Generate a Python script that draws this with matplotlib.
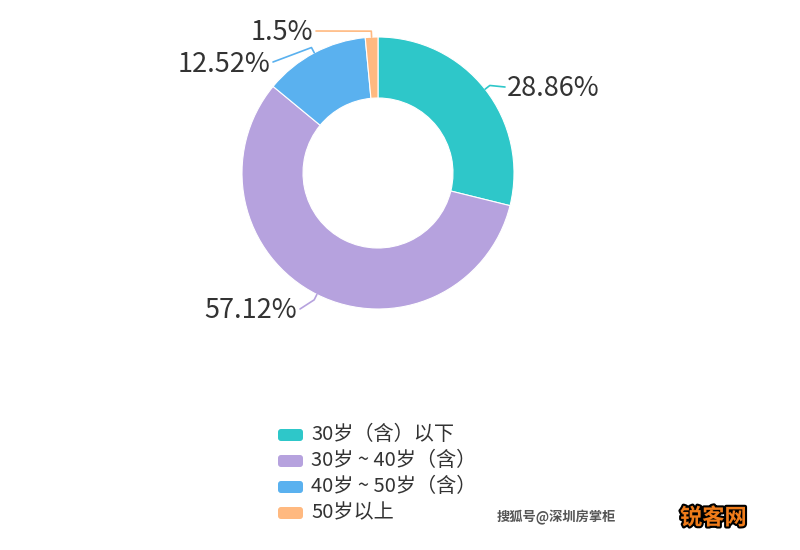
import numpy as np
import matplotlib

matplotlib.use("Agg")
import matplotlib.pyplot as plt
from matplotlib.patches import FancyBboxPatch
import matplotlib.patheffects as pe

plt.rcParams["font.family"] = ["Noto Sans CJK SC", "DejaVu Sans"]

# ------------------------------------------------------------------ data
categories = ["30岁（含）以下", "30岁 ~ 40岁（含）", "40岁 ~ 50岁（含）", "50岁以上"]
shares = [28.86, 57.12, 12.52, 1.5]
value_labels = ["28.86%", "57.12%", "12.52%", "1.5%"]
colors = ["#2ec7c9", "#b6a2de", "#5ab1ef", "#ffb980"]

# ------------------------------------------------------------------ layout (pixel coords, y down)
W, H = 800, 550
CX, CY = 378, 173
R_OUT = 136
R_IN = 75
INK = "#333333"

fig = plt.figure(figsize=(8, 5.5), dpi=100)
ax = fig.add_axes([0, 0, 1, 1])

def Y(y):
    return H - y

wedges, _ = ax.pie(shares, colors=colors, startangle=90, counterclock=False,
                   center=(CX, Y(CY)), radius=R_OUT, frame=True,
                   wedgeprops=dict(width=R_OUT - R_IN, edgecolor="white", linewidth=0.8))
ax.set_xlim(0, W)
ax.set_ylim(0, H)
ax.set_aspect("equal")
ax.axis("off")

# leader lines + value labels
label_pos = [(507, 89, "left"), (297, 311, "right"), (270, 64, "right"), (313, 33, "right")]
for w, lab, (lx, ly, ha), col in zip(wedges, value_labels, label_pos, colors):
    mid = np.deg2rad((w.theta1 + w.theta2) / 2)
    x0 = CX + R_OUT * np.cos(mid)
    y0 = CY - R_OUT * np.sin(mid)
    x1 = CX + (R_OUT + 6) * np.cos(mid)
    y1 = CY - (R_OUT + 6) * np.sin(mid)
    x2 = lx - 2 if ha == "left" else lx + 3
    ax.plot([x0, x1, x2], [Y(y0), Y(y1), Y(ly - 2)], color=col, lw=1.2,
            solid_capstyle="round", solid_joinstyle="round")
    ax.text(lx, Y(ly), lab, ha=ha, va="center", fontsize=19.5, color=INK,
            fontweight="light")

# legend
for i, (cat, col) in enumerate(zip(categories, colors)):
    ly = 435 + i * 26
    ax.add_patch(FancyBboxPatch((278, Y(ly) - 6), 25, 12,
                                boxstyle="round,pad=0,rounding_size=3",
                                fc=col, ec="none"))
    ax.text(311, Y(ly), cat, ha="left", va="center", fontsize=14.5, color=INK,
            fontweight="light")

# watermarks
ax.text(497, Y(517), "搜狐号@深圳房掌柜", ha="left", va="center", fontsize=9.5,
        color="#555555", fontweight="bold")
ax.text(680, Y(518), "锐客网", ha="left", va="center", fontsize=16,
        color="#f07c1a", fontweight="bold",
        path_effects=[pe.withStroke(linewidth=3, foreground="black")])

fig.savefig("out.png", dpi=100, facecolor="white")
